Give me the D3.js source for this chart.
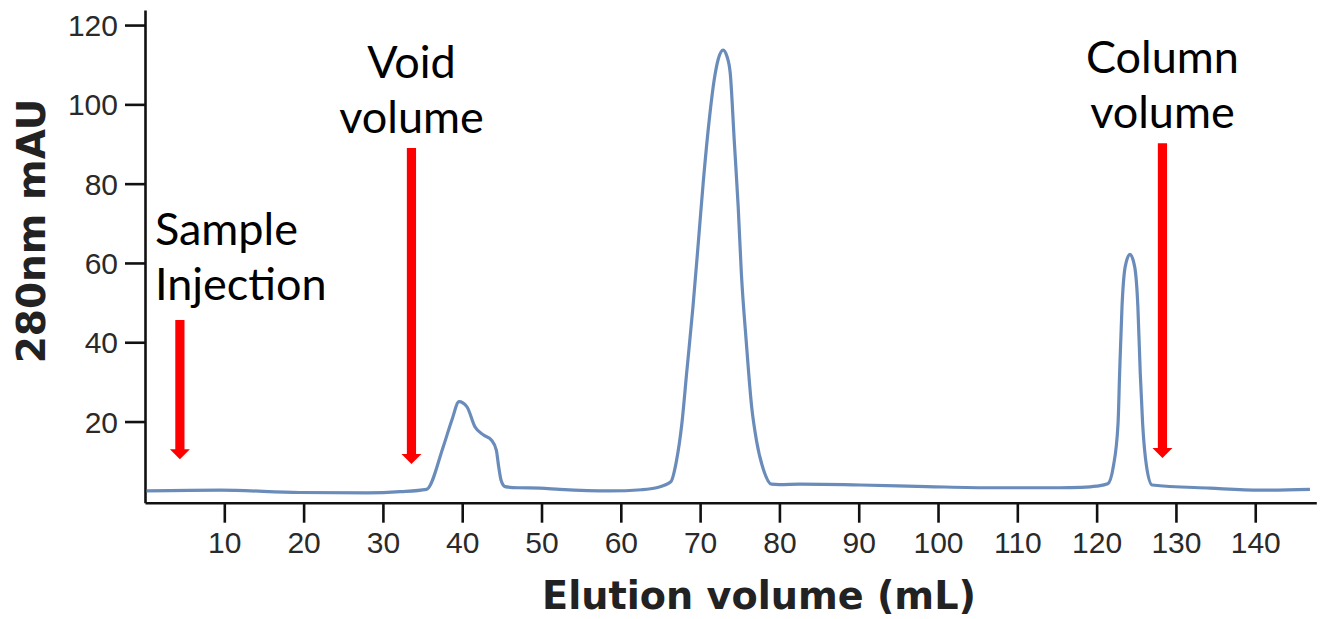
<!DOCTYPE html>
<html>
<head>
<meta charset="utf-8">
<script src="https://cdn.jsdelivr.net/npm/d3@7"></script>
<style>
  html, body { margin: 0; padding: 0; background: #fff; }
  svg { display: block; }
</style>
</head>
<body>
<svg id="chart" width="1325" height="619"></svg>
<script>
// ---- data ----
const volume = [0.2, 9.5, 19.5, 28, 32.2, 35.5, 37.6, 38.7, 39.6, 40.6, 41.6, 42.7, 43.7, 44.3, 44.6, 44.9, 45.4,
  47, 49.8, 52.3, 58.6, 62.6, 64.5, 66.3, 67.0, 67.7, 68.3, 69.1, 69.8, 70.4, 71.2, 71.8, 72.3, 72.9, 73.4, 73.8,
  74.3, 74.8, 75.2, 75.8, 76.5, 77.1, 78.0, 79.0, 80.0, 82.6, 90.2, 98.6, 106.9, 115.4, 118, 120, 121.4,
  122.1, 122.7, 122.9, 123.2, 123.6, 124.2, 124.8, 125.2, 125.5, 125.8, 126.3, 127.0, 134.3, 140.6, 146.9];
const absorbance = [2.5, 2.7, 2.1, 2.0, 2.3, 2.9, 13.6, 20.4, 25.0, 23.7, 18.7, 16.6, 15.3, 12.8, 8.6, 5.2, 3.6,
  3.3, 3.2, 2.9, 2.5, 2.8, 3.3, 4.8, 9.9, 19.5, 32.2, 49.0, 65.8, 80.5, 97.0, 106.5, 111.5, 113.7, 112.0, 107.8,
  91.0, 74.2, 57.4, 40.6, 23.7, 15.3, 7.8, 4.2, 4.1, 4.2, 4.0, 3.6, 3.3, 3.3, 3.4, 3.7, 4.3,
  8.6, 19.5, 32.2, 49.0, 59.0, 62.2, 59.0, 49.0, 32.2, 19.5, 8.6, 4.0, 3.2, 2.7, 2.9];

const xTicks = [10, 20, 30, 40, 50, 60, 70, 80, 90, 100, 110, 120, 130, 140];
const yTicks = [20, 40, 60, 80, 100, 120];

// annotation markers (elution volume in mL, arrow top/tip in mAU)
const markerVolume = [4.4, 33.6, 128.3];
const markerTop = [45.6, 89.0, 90.2];
const markerTip = [10.5, 9.3, 10.8];
const markerLabels = [["Sample", "Injection"], ["Void", "volume"], ["Column", "volume"]];

const xTitle = "Elution volume (mL)";
const yTitle = "280nm mAU";

// ---- scales ----
const svg = d3.select("#chart");
const x = d3.scaleLinear().domain([0, 147.7]).range([145, 1316.3]);
const y = d3.scaleLinear().domain([-0.47, 123.8]).range([502.7, 10]);

const tickFont = "'Liberation Sans', Arial, sans-serif";
const titleFont = "'DejaVu Sans', Verdana, sans-serif";
const noteFont = "Lato, 'Open Sans', sans-serif";

// ---- axes ----
const xAxis = svg.append("g")
  .attr("transform", `translate(0,${y.range()[0]})`)
  .call(d3.axisBottom(x).tickValues(xTicks).tickSize(20).tickSizeOuter(0).tickPadding(9).tickFormat(d3.format("d")));
const yAxis = svg.append("g")
  .attr("transform", `translate(${x.range()[0]},0)`)
  .call(d3.axisLeft(y).tickValues(yTicks).tickSize(20).tickSizeOuter(0).tickPadding(7).tickFormat(d3.format("d")));

[xAxis, yAxis].forEach(g => {
  g.select(".domain").attr("stroke", "#111").attr("stroke-width", 2.6);
  g.selectAll(".tick line").attr("stroke", "#111").attr("stroke-width", 2.6);
  g.selectAll(".tick text").attr("fill", "#2a2a2a").style("font-family", tickFont).style("font-size", "30px");
});
yAxis.selectAll(".tick text").attr("dy", "0.35em");

// ---- line ----
const line = d3.line()
  .x((d, i) => x(volume[i]))
  .y(d => y(d))
  .curve(d3.curveMonotoneX);

svg.append("path")
  .datum(absorbance)
  .attr("d", line)
  .attr("fill", "none")
  .attr("stroke", "#6a8cbb")
  .attr("stroke-width", 3.2)
  .attr("stroke-linejoin", "round");

// ---- arrows ----
const shaftHalf = 4.6, headHalf = 10, headLen = 10;
markerVolume.forEach((v, i) => {
  const cx = x(v), yt = y(markerTop[i]), yb = y(markerTip[i]);
  const p = d3.path();
  p.moveTo(cx - shaftHalf, yt);
  p.lineTo(cx + shaftHalf, yt);
  p.lineTo(cx + shaftHalf, yb - headLen);
  p.lineTo(cx + headHalf, yb - headLen);
  p.lineTo(cx, yb);
  p.lineTo(cx - headHalf, yb - headLen);
  p.lineTo(cx - shaftHalf, yb - headLen);
  p.closePath();
  svg.append("path").attr("d", p.toString()).attr("fill", "#ff0000");
});

// ---- annotation labels ----
const noteSize = 45, lineGap = 55;
markerLabels.forEach((lines, i) => {
  const cx = x(markerVolume[i]);
  const first = i === 0;
  const t = svg.append("text")
    .style("font-family", noteFont)
    .style("font-size", noteSize + "px")
    .attr("fill", "#000")
    .attr("text-anchor", first ? "start" : "middle");
  const lastBase = y(markerTop[i]) - (first ? 20 : 15);
  const baseY = lastBase - (lines.length - 1) * lineGap;
  lines.forEach((s, k) => {
    t.append("tspan")
      .attr("x", first ? cx - 25 : cx)
      .attr("y", baseY + k * lineGap)
      .text(s);
  });
});

// ---- axis titles ----
svg.append("text")
  .attr("x", 759).attr("y", 609)
  .attr("text-anchor", "middle")
  .style("font-family", titleFont).style("font-weight", "bold").style("font-size", "38.2px")
  .attr("fill", "#222")
  .text(xTitle);

svg.append("text")
  .attr("transform", "translate(45,231) rotate(-90)")
  .attr("text-anchor", "middle")
  .style("font-family", titleFont).style("font-weight", "bold").style("font-size", "39px")
  .attr("fill", "#222")
  .text(yTitle);
</script>
</body>
</html>
